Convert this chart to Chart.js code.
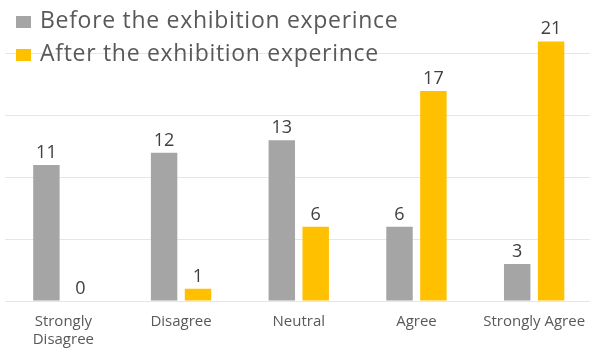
<!DOCTYPE html>
<html>
<head>
<meta charset="utf-8">
<script src="https://cdn.jsdelivr.net/npm/chart.js@4"></script>
<style>
  html, body { margin: 0; padding: 0; background: #fff; overflow: hidden; }
  #wrap { position: relative; width: 590px; height: 348px; overflow: hidden; }
  #chart { position: absolute; left: 0; top: -12px; }
</style>
</head>
<body>
<div id="wrap"><canvas id="chart" width="600" height="370"></canvas></div>
<script>
// Survey answers, counted before and after the visit
const categories = [['Strongly', 'Disagree'], 'Disagree', 'Neutral', 'Agree', 'Strongly Agree'];
const seriesNames = ['Before the exhibition experince', 'After the exhibition experince'];
const seriesColors = ['#A5A5A5', '#FFC000'];
const beforeValues = [11, 12, 13, 6, 3];
const afterValues = [0, 1, 6, 17, 21];
const yMin = 0;
const yMax = 25;
const yStep = 5;

// numbers sitting on top of each bar
const valueLabels = {
  id: 'valueLabels',
  afterDatasetsDraw(chart) {
    const { ctx } = chart;
    ctx.save();
    ctx.font = '18px "Open Sans"';
    ctx.fillStyle = '#404040';
    ctx.textAlign = 'center';
    ctx.textBaseline = 'alphabetic';
    chart.data.datasets.forEach((ds, i) => {
      chart.getDatasetMeta(i).data.forEach((bar, j) => {
        ctx.fillText(String(ds.data[j]), bar.x, bar.y - 7);
      });
    });
    ctx.restore();
  }
};

// legend drawn over the plot, one series per row
const overlayLegend = {
  id: 'overlayLegend',
  afterDraw(chart) {
    const { ctx } = chart;
    ctx.save();
    ctx.font = '23px "Open Sans"';
    ctx.letterSpacing = '0.7px';
    ctx.textBaseline = 'alphabetic';
    chart.data.datasets.forEach((ds, i) => {
      const base = 40 + i * 33;
      ctx.fillStyle = ds.backgroundColor;
      ctx.fillRect(16, base - 12, 15, 12);
      ctx.fillStyle = '#595959';
      ctx.fillText(ds.label, 40, base);
    });
    ctx.restore();
  }
};

new Chart(document.getElementById('chart'), {
  type: 'bar',
  data: {
    labels: categories,
    datasets: [
      { label: seriesNames[0], data: beforeValues, backgroundColor: seriesColors[0] },
      { label: seriesNames[1], data: afterValues, backgroundColor: seriesColors[1] }
    ]
  },
  options: {
    responsive: false,
    animation: false,
    events: [],
    layout: { padding: { left: 4.5, right: 7, top: 4, bottom: 1 } },
    datasets: {
      bar: { categoryPercentage: 0.576, barPercentage: 0.78 }
    },
    plugins: {
      legend: { display: false },
      tooltip: { enabled: false }
    },
    scales: {
      x: {
        grid: { display: false, drawTicks: false },
        border: { display: false },
        ticks: {
          padding: 12,
          color: '#595959',
          font: { family: '"Open Sans"', size: 15 },
          maxRotation: 0,
          autoSkip: false
        },
        afterFit: s => { s.height = 56; }
      },
      y: {
        min: yMin,
        max: yMax,
        grid: { color: '#E6E6E6', lineWidth: 1, drawTicks: false },
        border: { display: false },
        ticks: { display: false, stepSize: yStep },
        afterFit: s => { s.width = 0; }
      }
    }
  },
  plugins: [valueLabels, overlayLegend]
});
</script>
</body>
</html>
